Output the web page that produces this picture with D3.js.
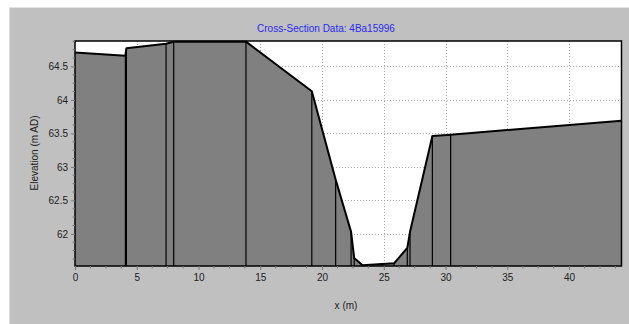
<!DOCTYPE html>
<html>
<head>
<meta charset="utf-8">
<script src="https://cdn.jsdelivr.net/npm/d3@7"></script>
<style>
  body { margin: 0; background: #fff; }
  text { font-family: "Liberation Sans", Arial, sans-serif; }
</style>
</head>
<body>
<svg id="chart" width="629" height="324"></svg>
<script>
// chainage (m) and bed elevation (m AD) of the surveyed points
var chainage = [0, 4.08, 4.16, 7.37, 7.99, 13.84, 19.17, 21.1, 22.35, 22.6, 23.27, 25.83, 26.9, 27.12, 28.93, 30.41, 44.24];
var elevation = [64.71, 64.66, 64.77, 64.84, 64.87, 64.87, 64.13, 62.81, 62.03, 61.64, 61.53, 61.56, 61.79, 62.03, 63.46, 63.48, 63.69];
var xTicks = [0, 5, 10, 15, 20, 25, 30, 35, 40];
var yTicks = [62, 62.5, 63, 63.5, 64, 64.5];
var title = "Cross-Section Data: 4Ba15996";

var width = 629, height = 324;
var plotL = 75, plotR = 621.5, plotT = 41, plotB = 266;

var svg = d3.select("#chart");

// grey panel
svg.append("rect")
  .attr("x", 9.5).attr("y", 7)
  .attr("width", width - 9.5).attr("height", height - 7)
  .style("fill", "#c0c0c0");
svg.append("line")
  .attr("x1", 9.5).attr("x2", width).attr("y1", 7.5).attr("y2", 7.5)
  .style("stroke", "#e2e2e2");

var x = d3.scaleLinear().domain([0, 44.24]).range([plotL, plotR]);
var y = d3.scaleLinear().domain([61.52, 64.88]).range([plotB, plotT]);

// plot background
svg.append("rect")
  .attr("x", plotL).attr("y", plotT)
  .attr("width", plotR - plotL).attr("height", plotB - plotT)
  .style("fill", "white");

// grid
svg.append("g").selectAll("line.gx")
  .data(xTicks.filter(function(d){return d > 0;}))
  .enter().append("line")
  .attr("x1", function(d){return Math.round(x(d)) + 0.5;})
  .attr("x2", function(d){return Math.round(x(d)) + 0.5;})
  .attr("y1", plotT).attr("y2", plotB)
  .style("stroke", "#aaa").style("stroke-dasharray", "1,2");
svg.append("g").selectAll("line.gy")
  .data(yTicks)
  .enter().append("line")
  .attr("x1", plotL).attr("x2", plotR)
  .attr("y1", function(d){return Math.round(y(d)) + 0.5;})
  .attr("y2", function(d){return Math.round(y(d)) + 0.5;})
  .style("stroke", "#aaa").style("stroke-dasharray", "1,2");

var pts = chainage.map(function(c, i){return [c, elevation[i]];});

// ground fill
var area = d3.area()
  .x(function(d){return x(d[0]);})
  .y0(plotB)
  .y1(function(d){return y(d[1]);});
svg.append("path")
  .datum(pts)
  .attr("d", area)
  .style("fill", "#808080");

// verticals at each point
svg.append("g").selectAll("line.v")
  .data(pts.slice(1, pts.length - 1))
  .enter().append("line")
  .attr("x1", function(d){return x(d[0]);})
  .attr("x2", function(d){return x(d[0]);})
  .attr("y1", function(d){return y(d[1]);})
  .attr("y2", plotB)
  .style("stroke", "black").style("stroke-width", 1.2);

// profile
svg.append("path")
  .datum(pts)
  .attr("d", d3.line().x(function(d){return x(d[0]);}).y(function(d){return y(d[1]);}))
  .style("fill", "none").style("stroke", "black").style("stroke-width", 2)
  .style("stroke-linejoin", "round");

// frame
svg.append("rect")
  .attr("x", plotL).attr("y", plotT)
  .attr("width", plotR - plotL).attr("height", plotB - plotT)
  .style("fill", "none").style("stroke", "black").style("stroke-width", 1.5);

// x axis
var xAxis = d3.axisBottom(x).tickValues(xTicks).tickSize(4).tickPadding(4).tickFormat(d3.format("d"));
var gx = svg.append("g").attr("transform", "translate(0," + plotB + ")").call(xAxis);
var xMinor = d3.range(0, 44.25, 1.25).filter(function(d){return d % 5 !== 0;});
gx.selectAll("line.minor").data(xMinor).enter().append("line")
  .attr("class", "minor")
  .attr("x1", function(d){return x(d);}).attr("x2", function(d){return x(d);})
  .attr("y1", 0).attr("y2", 2.5)
  .style("stroke", "#777");

// y axis
var yAxis = d3.axisLeft(y).tickValues(yTicks).tickSize(4).tickPadding(3).tickFormat(d3.format("~g"));
var gy = svg.append("g").attr("transform", "translate(" + plotL + ",0)").call(yAxis);
var yMinor = d3.range(61.625, 64.88, 0.125).filter(function(d){return Math.abs(d * 2 - Math.round(d * 2)) > 0.01;});
gy.selectAll("line.minor").data(yMinor).enter().append("line")
  .attr("class", "minor")
  .attr("x1", 0).attr("x2", -2.5)
  .attr("y1", function(d){return y(d);}).attr("y2", function(d){return y(d);})
  .style("stroke", "#777");

[gx, gy].forEach(function(g){
  g.select(".domain").remove();
  g.selectAll(".tick line").style("stroke", "#777");
  g.selectAll(".tick text").style("font-size", "10px").style("fill", "#222")
    .style("font-family", "'Liberation Sans', Arial, sans-serif");
});

// labels
svg.append("text")
  .text(title)
  .attr("x", 326).attr("y", 32)
  .attr("text-anchor", "middle")
  .style("font-size", "10px").style("fill", "#2a2af0");

svg.append("text")
  .text("x (m)")
  .attr("x", 346).attr("y", 309)
  .attr("text-anchor", "middle")
  .style("font-size", "10px").style("fill", "#222");

svg.append("text")
  .text("Elevation (m AD)")
  .attr("transform", "translate(38,153) rotate(-90)")
  .attr("text-anchor", "middle")
  .style("font-size", "10px").style("fill", "#222");
</script>
</body>
</html>
